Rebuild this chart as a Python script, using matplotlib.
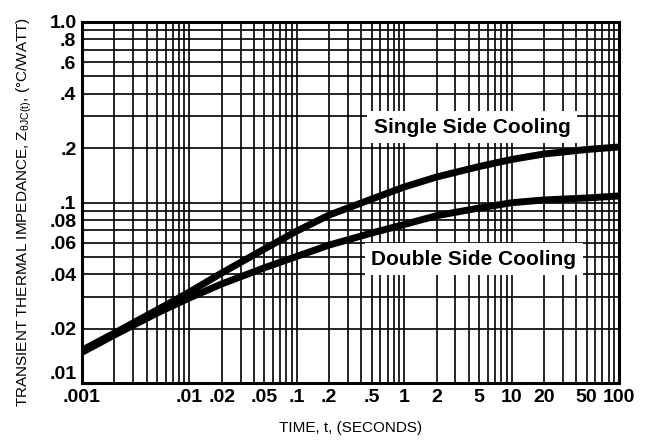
import matplotlib.pyplot as plt
from matplotlib.ticker import LogLocator, FixedLocator, NullFormatter

plt.rcParams['font.family'] = ['Liberation Sans', 'DejaVu Sans']
plt.rcParams['mathtext.fontset'] = 'custom'
plt.rcParams['mathtext.rm'] = 'Liberation Sans'
plt.rcParams['mathtext.it'] = 'Liberation Sans'

# time (s) and transient thermal impedance (C/W)
t = [0.001, 0.002, 0.005, 0.01, 0.02, 0.05, 0.1, 0.2, 0.5, 1, 2, 5, 10, 20, 50, 100]
z_single = [0.0152, 0.0189, 0.0254, 0.0319, 0.0407, 0.0553, 0.0695, 0.0852, 0.1046,
            0.1219, 0.1384, 0.1583, 0.1731, 0.1857, 0.1966, 0.203]
z_double = [0.0148, 0.01845, 0.0244, 0.0296, 0.0354, 0.0435, 0.0503, 0.0581, 0.0678,
            0.0755, 0.0845, 0.0932, 0.0997, 0.1033, 0.1059, 0.1087]

x_ticks = [0.001, 0.01, 0.02, 0.05, 0.1, 0.2, 0.5, 1, 2, 5, 10, 20, 50, 100]
x_labels = ['.001', '.01', '.02', '.05', '.1', '.2', '.5', '1', '2', '5', '10', '20', '50', '100']
y_ticks = [0.01, 0.02, 0.04, 0.06, 0.08, 0.1, 0.2, 0.4, 0.6, 0.8, 1.0]
y_labels = ['.01', '.02', '.04', '.06', '.08', '.1', '.2', '.4', '.6', '.8', '1.0']

fig = plt.figure(figsize=(6.52, 4.40), dpi=100)
ax = fig.add_axes([0.1258, 0.1295, 0.8235, 0.8205])

ax.set_xscale('log')
ax.set_yscale('log')
ax.set_xlim(0.001, 100)
ax.set_ylim(0.01, 1.0)

# full log paper grid
ax.xaxis.set_minor_locator(LogLocator(base=10, subs=range(1, 10)))
ax.yaxis.set_minor_locator(LogLocator(base=10, subs=range(1, 10)))
ax.xaxis.set_minor_formatter(NullFormatter())
ax.yaxis.set_minor_formatter(NullFormatter())
ax.grid(True, which='both', color='black', linewidth=1.2)
ax.set_axisbelow(True)

ax.xaxis.set_major_locator(FixedLocator(x_ticks))
ax.set_xticklabels(x_labels, fontweight='bold')
ax.yaxis.set_major_locator(FixedLocator(y_ticks))
ax.set_yticklabels(y_labels, fontweight='bold')
ax.tick_params(which='both', length=0, labelsize=14)
ax.tick_params(axis='x', pad=4)
ax.tick_params(axis='y', pad=4)
# the .01 label sits a little above the corner
ax.yaxis.get_major_ticks()[0].label1.set_verticalalignment('bottom')

for s in ax.spines.values():
    s.set_linewidth(2.2)

ax.plot(t, z_single, color='black', linewidth=5, solid_capstyle='butt')
ax.plot(t, z_double, color='black', linewidth=5, solid_capstyle='butt')

box = dict(facecolor='white', edgecolor='none', pad=5)
ax.text(4.28, 0.262, 'Single Side Cooling', fontsize=15, fontweight='bold',
        ha='center', va='center', bbox=box)
ax.text(4.46, 0.0486, 'Double Side Cooling', fontsize=15, fontweight='bold',
        ha='center', va='center', bbox=box)

ax.set_xlabel('TIME, t, (SECONDS)', fontsize=11)
ax.set_ylabel(r'TRANSIENT THERMAL IMPEDANCE, Z$_{\theta JC(t)}$, (°C/WATT)', fontsize=11)
ax.xaxis.set_label_coords(0.5, -0.105)
ax.yaxis.set_label_coords(-0.09, 0.474)

fig.savefig('out.png', dpi=100)
